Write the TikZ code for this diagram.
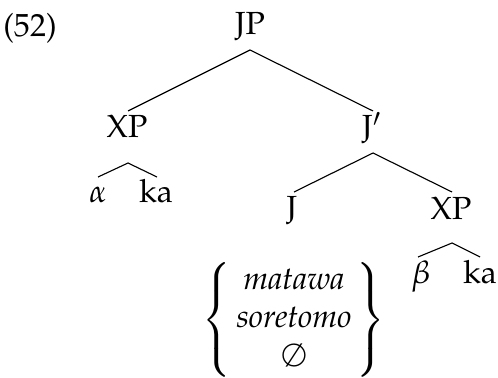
\documentclass[tikz,border=0pt]{standalone}
\usepackage[T1]{fontenc}
\usepackage{mathpazo}
\usetikzlibrary{calc}
\begin{document}
\begin{tikzpicture}[x=0.3125pt,y=-0.3125pt,
  lab/.style={anchor=base,inner sep=0pt},
  edge/.style={line width=0.35pt}]
\useasboundingbox (0,0) rectangle (498,377);
\node[lab] (ex) at (30,37) {(52)};
\node[lab] (JP) at (250,35) {JP};
\node[lab] (XPa) at (127,138) {XP};
\node[lab] (Jbar) at (372,138) {J$'$};
\node[lab] (alpha) at (98,203) {$\alpha$};
\node[lab] (ka1) at (156,203) {ka};
\node[lab] (J) at (292,218) {J};
\node[lab] (XPb) at (451,219) {XP};
\node[lab] (beta) at (421,283) {$\beta$};
\node[lab] (ka2) at (480,283) {ka};
\node[inner sep=0pt] (set) at (294,320) {\setlength{\arraycolsep}{1.5pt}$\left\{\begin{array}{c}\textit{matawa}\\ \textit{soretomo}\\ \emptyset\end{array}\right\}$};
% edges
\draw[edge] ($(JP.base)+(0,15)$) -- ($(XPa.base)+(1,-27)$);
\draw[edge] ($(JP.base)+(0,15)$) -- ($(Jbar.base)+(1,-27)$);
\draw[edge] ($(alpha.base)+(0,-26)$) -- ($(XPa.base)+(1,25)$) -- ($(ka1.base)+(1,-26)$);
\draw[edge] ($(J.base)+(2,-26)$) -- ($(Jbar.base)+(1,15)$) -- ($(XPb.base)+(1,-27)$);
\draw[edge] ($(J.base)+(1,15)$) -- ($(J.base)+(1,15)$ |- set.north);
\draw[edge] ($(beta.base)+(-3,-26)$) -- ($(beta.base)+(31,-40)$) -- ($(ka2.base)+(0,-26)$);
\end{tikzpicture}
\end{document}
